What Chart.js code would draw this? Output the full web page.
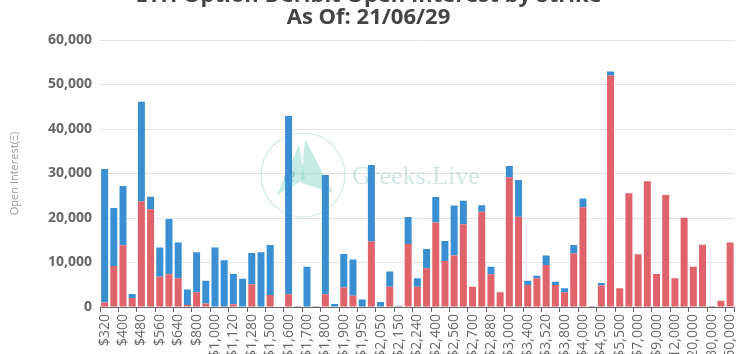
<!DOCTYPE html>
<html>
<head>
<meta charset="utf-8">
<script src="https://cdn.jsdelivr.net/npm/chart.js@4.4.0/dist/chart.umd.min.js"></script>
<style>
  html, body { margin: 0; padding: 0; background: #fff; overflow: hidden; }
  #wrap { position: relative; width: 749px; height: 354px; overflow: hidden; }
  #chart { position: absolute; left: 0; top: -15px; }
</style>
</head>
<body>
<div id="wrap"><canvas id="chart" width="749" height="420"></canvas></div>
<script>
// strikes (USD)
const strikes = [
  320, 360, 400, 440, 480, 520, 560, 600, 640, 720,
  800, 880, 1000, 1040, 1120, 1200, 1280, 1400, 1500, 1550,
  1600, 1650, 1700, 1750, 1800, 1850, 1900, 1920, 1950, 2000,
  2050, 2100, 2150, 2200, 2240, 2300, 2400, 2500, 2560, 2600,
  2700, 2800, 2880, 2960, 3000, 3200, 3400, 3500, 3520, 3600,
  3800, 3840, 4000, 4400, 4500, 5000, 5500, 6000, 7000, 8000,
  9000, 10000, 12000, 15000, 20000, 25000, 30000, 40000, 50000
];

// red, bottom of the stack
const callOI = [
  1000, 9200, 13900, 2000, 23700, 21950, 6800, 7350, 6450, 450,
  3300, 800, 0, 0, 600, 0, 5100, 0, 2700, 0,
  2850, 150, 0, 150, 2850, 0, 4400, 2550, 100, 14700,
  0, 4550, 150, 14150, 4550, 8700, 19000, 10350, 11550, 18600,
  4550, 21400, 7350, 3300, 29150, 20300, 4950, 6450, 9450, 4950,
  3300, 12050, 22400, 150, 4850, 52000, 4200, 25550, 11850, 28250,
  7400, 25150, 6450, 20050, 9050, 14000, 150, 1400, 14500
];

// blue, on top
const putOI = [
  30000, 13050, 13300, 900, 22450, 2850, 6550, 12450, 8050, 3500,
  9000, 5100, 13350, 10500, 6800, 6350, 7050, 12300, 11250, 0,
  40050, 100, 9050, 100, 26800, 650, 7500, 8150, 1600, 17200,
  1100, 3400, 150, 6050, 1900, 4350, 5700, 4500, 11250, 5300,
  0, 1450, 1700, 0, 2550, 8250, 950, 600, 2100, 750,
  900, 1900, 2000, 100, 550, 900, 0, 0, 0, 0,
  0, 0, 0, 0, 0, 0, 50, 0, 0
];

const yTicks = [0, 10000, 20000, 30000, 40000, 50000, 60000];

const RED = "#e0636c";
const BLUE = "#3a8fd3";

const fmt = (v) => Number(v).toLocaleString("en-US");

// faint logo + name behind the bars
const watermark = {
  id: "watermark",
  beforeDatasetsDraw(chart) {
    const ctx = chart.ctx;
    const cx = 303, cy = 190, r = 42;
    ctx.save();
    ctx.strokeStyle = "rgba(170, 215, 210, 0.55)";
    ctx.lineWidth = 1.2;
    ctx.beginPath();
    ctx.arc(cx, cy, r, 0, Math.PI * 2);
    ctx.stroke();

    ctx.fillStyle = "rgba(140, 215, 200, 0.5)";
    ctx.beginPath();
    ctx.moveTo(cx - 26, cy + 20);
    ctx.lineTo(cx - 4, cy - 30);
    ctx.lineTo(cx + 2, cy + 4);
    ctx.closePath();
    ctx.fill();
    ctx.beginPath();
    ctx.moveTo(cx + 2, cy - 36);
    ctx.lineTo(cx + 30, cy + 18);
    ctx.lineTo(cx - 2, cy + 8);
    ctx.closePath();
    ctx.fill();

    ctx.fillStyle = "rgba(130, 190, 185, 0.7)";
    ctx.font = "italic 22px 'DejaVu Serif', serif";
    ctx.textBaseline = "alphabetic";
    ctx.fillText("e", cx - 20, cy + 8);

    ctx.font = "26px 'Liberation Serif', serif";
    ctx.fillStyle = "rgba(175, 210, 205, 0.55)";
    ctx.fillText("Greeks.Live", 352, cy + 9);
    ctx.restore();
  }
};

new Chart(document.getElementById("chart"), {
  type: "bar",
  data: {
    labels: strikes.map((s) => "$" + fmt(s)),
    datasets: [
      { label: "Call", data: callOI, backgroundColor: RED, stack: "oi" },
      { label: "Put", data: putOI, backgroundColor: BLUE, stack: "oi" }
    ]
  },
  options: {
    responsive: false,
    animation: false,
    devicePixelRatio: 1,
    categoryPercentage: 0.8,
    barPercentage: 0.95,
    layout: { padding: { left: 0, right: 12, top: 0, bottom: 0 } },
    plugins: {
      legend: { display: false },
      tooltip: { enabled: false },
      title: {
        display: true,
        text: ["ETH Option Deribit Open Interest by Strike", "As Of: 21/06/29"],
        color: "#444",
        font: { family: "'Open Sans', sans-serif", size: 22, weight: "bold", lineHeight: 1.0 },
        padding: { top: 0, bottom: 11 }
      }
    },
    scales: {
      x: {
        stacked: true,
        border: { color: "#666", width: 1 },
        grid: {
          drawOnChartArea: false,
          tickLength: 5,
          tickColor: (c) => (c.index % 2 ? "rgba(0,0,0,0)" : "#666")
        },
        ticks: {
          autoSkip: false,
          maxRotation: 90,
          minRotation: 90,
          padding: 2,
          color: "#666",
          font: { family: "'Open Sans', sans-serif", size: 14 },
          callback: function (val, i) {
            return i % 2 ? "" : this.getLabelForValue(val);
          }
        },
        afterFit: (scale) => { scale.height = 98; }
      },
      y: {
        stacked: true,
        min: 0,
        max: 60000,
        border: { display: false },
        grid: { color: "#e3e3e3", drawTicks: false },
        afterBuildTicks: (scale) => { scale.ticks = yTicks.map((v) => ({ value: v })); },
        ticks: {
          padding: 8,
          color: "#666",
          font: { family: "'Open Sans', sans-serif", size: 14, weight: "bold" },
          callback: (v) => fmt(v)
        },
        title: {
          display: true,
          text: "Open Interest(Ξ)",
          color: "#999",
          font: { family: "'Open Sans', sans-serif", size: 11 },
          padding: { top: 8, bottom: 6 }
        },
        afterFit: (scale) => { scale.width = 100; }
      }
    }
  },
  plugins: [watermark]
});
</script>
</body>
</html>
